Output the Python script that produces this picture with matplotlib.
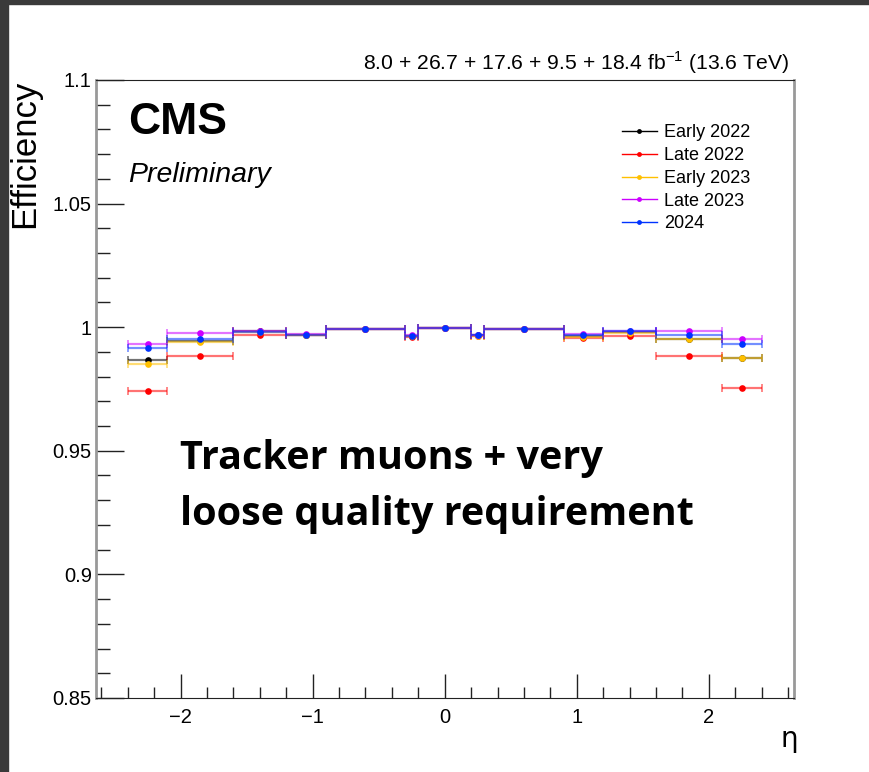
import matplotlib
import matplotlib.pyplot as plt
from matplotlib.lines import Line2D
from matplotlib.patches import Rectangle
from matplotlib.ticker import MultipleLocator, FuncFormatter

matplotlib.use("Agg")

# eta binning used for the efficiency measurement
eta_edges = [-2.4, -2.1, -1.6, -1.2, -0.9, -0.3, -0.2, 0.2, 0.3, 0.9, 1.2, 1.6, 2.1, 2.4]

labels = ["Early 2022", "Late 2022", "Early 2023", "Late 2023", "2024"]
colors = ["#000000", "#ff0000", "#ffc000", "#cc00ff", "#0033ff"]

eff_early2022 = [0.9866, 0.9945, 0.9985, 0.9970, 0.9994, 0.9965, 0.9996,
                 0.9967, 0.9994, 0.9965, 0.9980, 0.9954, 0.9875]
eff_late2022 = [0.9742, 0.9885, 0.9969, 0.9968, 0.9993, 0.9962, 0.9995,
                0.9965, 0.9993, 0.9957, 0.9963, 0.9885, 0.9754]
eff_early2023 = [0.9852, 0.9939, 0.9981, 0.9969, 0.9994, 0.9966, 0.9996,
                 0.9966, 0.9994, 0.9962, 0.9975, 0.9952, 0.9875]
eff_late2023 = [0.9931, 0.9978, 0.9983, 0.9974, 0.9994, 0.9967, 0.9996,
                0.9968, 0.9994, 0.9972, 0.9984, 0.9984, 0.9952]
eff_2024 = [0.9915, 0.9952, 0.9980, 0.9967, 0.9994, 0.9966, 0.9996,
            0.9970, 0.9994, 0.9970, 0.9984, 0.9970, 0.9933]

series = [eff_early2022, eff_late2022, eff_early2023, eff_late2023, eff_2024]

centers = [(lo + hi) / 2 for lo, hi in zip(eta_edges[:-1], eta_edges[1:])]
half_widths = [(hi - lo) / 2 for lo, hi in zip(eta_edges[:-1], eta_edges[1:])]

plt.rcParams["font.family"] = ["Liberation Sans", "DejaVu Sans"]
plt.rcParams["mathtext.fontset"] = "custom"
plt.rcParams["mathtext.rm"] = "Liberation Sans"

fig = plt.figure(figsize=(8.69, 7.72), dpi=100, facecolor="white")
ax = fig.add_axes([0.1105, 0.0959, 0.8032, 0.8005])

for vals, col, lab in zip(series, colors, labels):
    ax.errorbar(centers, vals, xerr=half_widths, fmt="none", ecolor=col,
                elinewidth=1.6, capsize=3, capthick=1.2, alpha=0.55)
    ax.plot(centers, vals, "o", color=col, markersize=4.8,
            markeredgewidth=0, label=lab)

ax.set_xlim(-2.64, 2.645)
ax.set_ylim(0.85, 1.1)

ax.xaxis.set_major_locator(MultipleLocator(1))
ax.xaxis.set_minor_locator(MultipleLocator(0.2))
ax.yaxis.set_major_locator(MultipleLocator(0.05))
ax.yaxis.set_minor_locator(MultipleLocator(0.01))
ax.yaxis.set_major_formatter(FuncFormatter(lambda v, p: f"{v:g}"))

ax.tick_params(which="both", direction="in", top=False, right=False,
               color="#222222", labelsize=14.5)
ax.tick_params(axis="y", which="major", length=20, width=1, pad=3)
ax.tick_params(axis="y", which="minor", length=10, width=1)
ax.tick_params(axis="x", which="major", length=17, width=1, pad=7)
ax.tick_params(axis="x", which="minor", length=8, width=1)

ax.spines["left"].set_color("#999999")
ax.spines["left"].set_linewidth(2)
ax.spines["right"].set_color("#999999")
ax.spines["right"].set_linewidth(2)
ax.spines["bottom"].set_color("#222222")
ax.spines["top"].set_color("#222222")

# legend: thin line with a small dot in the middle
leg_handles = [Line2D([0], [0], color=c, lw=1, marker="o", markersize=3.5,
                      markeredgewidth=0) for c in colors]
ax.legend(leg_handles, labels, loc="upper left", bbox_to_anchor=(0.743, 0.94),
          frameon=False, fontsize=13, handlelength=1.95, handletextpad=0.4,
          labelspacing=0.32, borderaxespad=0)

# axis titles
fig.text(0.028, 0.8964, "Efficiency", rotation=90, fontsize=25,
         ha="center", va="top")
fig.text(0.908, 0.032, "η", fontsize=20, ha="center", va="baseline",
         family=["DejaVu Sans"])

ax.text(0.046, 0.965, "CMS", transform=ax.transAxes, fontsize=32,
        fontweight="bold", va="top", ha="left")
ax.text(0.046, 0.835, "Preliminary", transform=ax.transAxes, fontsize=20.5,
        fontstyle="italic", va="baseline", ha="left")
ax.text(0.992, 1.006, r"8.0 + 26.7 + 17.6 + 9.5 + 18.4 fb$^{-1}$ (13.6 TeV)",
        transform=ax.transAxes, fontsize=15.2, ha="right", va="bottom")

ax.text(0.12, 0.28, "Tracker muons + very\nloose quality requirement",
        transform=ax.transAxes, fontsize=28.5, fontweight="bold",
        family=["Open Sans", "DejaVu Sans"], ha="left", va="baseline",
        linespacing=1.55)

# dark window border along the top and left edges
fig.patches.append(Rectangle((0, 1 - 4 / 772), 1, 4 / 772, transform=fig.transFigure,
                             color="#3a3a3a", zorder=10))
fig.patches.append(Rectangle((0, 0), 8 / 869, 1, transform=fig.transFigure,
                             color="#3a3a3a", zorder=10))

fig.savefig("out.png", dpi=100, facecolor="white")
